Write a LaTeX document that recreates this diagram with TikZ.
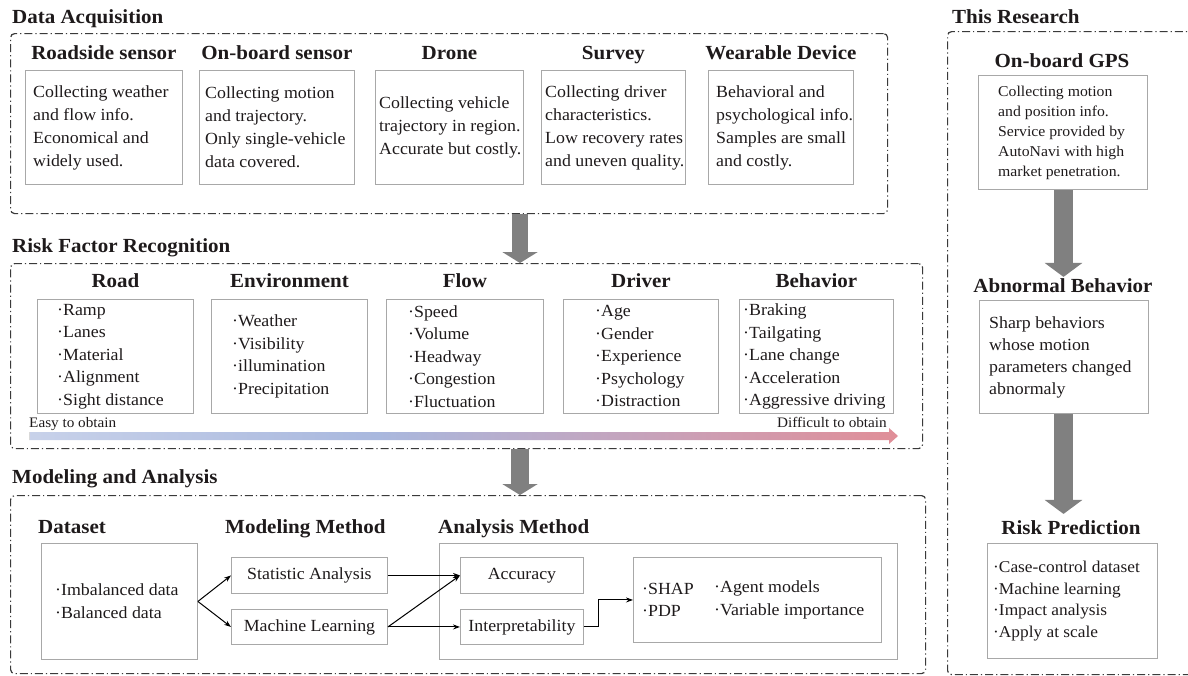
\documentclass[tikz,border=0pt]{standalone}
\usepackage{fontspec}
\setmainfont[FakeStretch=1.05]{Liberation Serif}
\usetikzlibrary{arrows.meta}
\definecolor{txt}{HTML}{1E1A1B}
\definecolor{boxc}{HTML}{A8A8A8}
\definecolor{panelc}{HTML}{3A3A3A}
\definecolor{arrc}{HTML}{808080}
\definecolor{ga}{HTML}{EEF1F8}
\definecolor{gb}{HTML}{A9B8DE}
\definecolor{gc}{HTML}{CF9CB0}
\definecolor{gd}{HTML}{EC8486}
\definecolor{ge}{HTML}{EF7373}
\pgfdeclarehorizontalshading{riskgrad}{100bp}{color(0bp)=(ga); color(45bp)=(gb); color(65bp)=(gc); color(82bp)=(gd); color(100bp)=(ge)}
\begin{document}
\begin{tikzpicture}[x=1pt,y=-1pt,
  panel/.style={draw=panelc, line width=1.2pt, dash pattern=on 8pt off 3pt on 1.2pt off 3pt, rounded corners=4pt, inner sep=0pt, anchor=north west},
  ptitle/.style={font=\fontsize{20}{22}\selectfont\bfseries, anchor=base west, inner sep=0pt, text=txt},
  head/.style={font=\fontsize{20}{22}\selectfont\bfseries, anchor=base, inner sep=0pt, text=txt},
  lhead/.style={font=\fontsize{20}{22}\selectfont\bfseries, anchor=base west, inner sep=0pt, text=txt},
  ibox/.style={draw=boxc, line width=0.9pt, anchor=north west, inner sep=0pt},
  itext/.style={align=left, inner sep=0pt, anchor=west, font=\fontsize{17}{23}\selectfont, text=txt},
  ftext/.style={align=left, inner sep=0pt, anchor=west, font=\fontsize{17}{22.5}\selectfont, text=txt},
  bigarrow/.style={draw=arrc, line width=#1},
  conn/.style={draw=black, line width=1pt, -{Stealth[length=7pt,width=5pt]}},
]
\useasboundingbox (0,0) rectangle (1188,675);

% ---------------- Data Acquisition ----------------
\node[ptitle] (dat) at (12,23) {Data Acquisition};
\node[panel, minimum width=877pt, minimum height=180pt] (da) at (10,33) {};

\node[ibox, minimum width=157pt, minimum height=114pt] (rs) at (25,70) {};
\node[head] (rsh) at ([yshift=11pt]rs.north) {Roadside sensor};
\node[itext] (rst) at ([xshift=8pt]rs.west) {Collecting weather\\and flow info.\\Economical and\\widely used.};

\node[ibox, minimum width=155pt, minimum height=114pt] (ob) at (199,70) {};
\node[head] (obh) at ([yshift=11pt]ob.north) {On-board sensor};
\node[itext] (obt) at ([xshift=6pt]ob.west) {Collecting motion\\and trajectory.\\Only single-vehicle\\data covered.};

\node[ibox, minimum width=148pt, minimum height=114pt] (dr) at (375,70) {};
\node[head] (drh) at ([yshift=11pt]dr.north) {Drone};
\node[itext] (drt) at ([xshift=4pt]dr.west) {Collecting vehicle\\trajectory in region.\\Accurate but costly.};

\node[ibox, minimum width=144pt, minimum height=114pt] (sv) at (541,70) {};
\node[head] (svh) at ([yshift=11pt]sv.north) {Survey};
\node[itext] (svt) at ([xshift=4pt]sv.west) {Collecting driver\\characteristics.\\Low recovery rates\\and uneven quality.};

\node[ibox, minimum width=145pt, minimum height=114pt] (wd) at (708,70) {};
\node[head] (wdh) at ([yshift=11pt]wd.north) {Wearable Device};
\node[itext] (wdt) at ([xshift=8pt]wd.west) {Behavioral and\\psychological info.\\Samples are small\\and costly.};

% ---------------- Risk Factor Recognition ----------------
\node[ptitle] (rft) at (12,252) {Risk Factor Recognition};
\node[panel, minimum width=912pt, minimum height=185pt] (rf) at (10,263) {};

\node[ibox, minimum width=156pt, minimum height=114pt] (road) at (37,299) {};
\node[head] at ([yshift=12pt]road.north) {Road};
\node[ftext] at ([xshift=20pt]road.west) {·Ramp\\·Lanes\\·Material\\·Alignment\\·Sight distance};

\node[ibox, minimum width=156pt, minimum height=114pt] (env) at (211,299) {};
\node[head] at ([yshift=12pt]env.north) {Environment};
\node[ftext] at ([xshift=21pt]env.west) {·Weather\\·Visibility\\·illumination\\·Precipitation};

\node[ibox, minimum width=157pt, minimum height=114pt] (flow) at (386,299) {};
\node[head] at ([yshift=12pt]flow.north) {Flow};
\node[ftext] at ([xshift=22pt]flow.west) {·Speed\\·Volume\\·Headway\\·Congestion\\·Fluctuation};

\node[ibox, minimum width=155pt, minimum height=114pt] (drv) at (563,299) {};
\node[head] at ([yshift=12pt]drv.north) {Driver};
\node[ftext] at ([xshift=32pt]drv.west) {·Age\\·Gender\\·Experience\\·Psychology\\·Distraction};

\node[ibox, minimum width=154pt, minimum height=114pt] (beh) at (739,299) {};
\node[head] at ([yshift=12pt]beh.north) {Behavior};
\node[ftext] at ([xshift=4pt]beh.west) {·Braking\\·Tailgating\\·Lane change\\·Acceleration\\·Aggressive driving};

\node[inner sep=0pt, anchor=base west, font=\fontsize{14.5}{16}\selectfont, text=txt] (easy) at (29,427) {Easy to obtain};
\node[inner sep=0pt, anchor=base east, font=\fontsize{14.5}{16}\selectfont, text=txt] (diff) at (887,427) {Difficult to obtain};
\shade[shading=riskgrad] (29,432) -- (889,432) -- (889,428) -- (898,436) -- (889,444) -- (889,440) -- (29,440) -- cycle;
\draw[draw=gray!30, line width=0.4pt] (29,432) -- (29,440);

% ---------------- Modeling and Analysis ----------------
\node[ptitle] (mat) at (12,483) {Modeling and Analysis};
\node[panel, minimum width=915pt, minimum height=178pt] (ma) at (10,495) {};

\node[lhead] (dsh) at (38,533) {Dataset};
\node[ibox, minimum width=156pt, minimum height=116pt] (ds) at (41,543) {};
\node[itext] at ([xshift=14pt]ds.west) {·Imbalanced data\\·Balanced data};

\node[lhead] (mmh) at (225,533) {Modeling Method};
\node[ibox, minimum width=156pt, minimum height=36pt, font=\fontsize{17}{20}\selectfont, text=txt] (sa) at (231,557) {Statistic Analysis};
\node[ibox, minimum width=156pt, minimum height=35pt, font=\fontsize{17}{20}\selectfont, text=txt] (ml) at (231,609) {Machine Learning};

\node[lhead] (amh) at (438,533) {Analysis Method};
\node[ibox, minimum width=458pt, minimum height=116pt] (am) at (439,543) {};
\node[ibox, minimum width=123pt, minimum height=36pt, font=\fontsize{17}{20}\selectfont, text=txt] (acc) at (460,557) {Accuracy};
\node[ibox, minimum width=123pt, minimum height=35pt, font=\fontsize{17}{20}\selectfont, text=txt] (int) at (460,609) {Interpretability};
\node[ibox, minimum width=248pt, minimum height=85pt] (shap) at (633,557) {};
\node[ftext] at ([xshift=9pt]shap.west) {·SHAP\\·PDP};
\node[ftext] at ([xshift=81pt]shap.west) {·Agent models\\·Variable importance};

\draw[conn] (ds.east) -- (sa.west);
\draw[conn] (ds.east) -- (ml.west);
\draw[conn] (sa.east) -- (acc.west);
\draw[conn] (ml.east) -- (acc.west);
\draw[conn] (ml.east) -- (int.west);
\draw[conn] (int.east) -- ++(15pt,0) |- (shap.west);

% ---------------- big arrows between panels ----------------
\coordinate (ax) at (520,0);
\draw[bigarrow=16pt, -{Triangle[width=35pt,length=11pt]}] (ax |- da.south) -- (ax |- rf.north);
\draw[bigarrow=18pt, -{Triangle[width=35pt,length=11pt]}] (ax |- rf.south) -- (ax |- ma.north);

% ---------------- This Research ----------------
\node[ptitle] (trt) at (952,23) {This Research};
\node[panel, minimum width=300pt, minimum height=643pt] (tr) at (947,31) {};

\node[head] (gpsh) at (1062,67) {On-board GPS};
\node[ibox, minimum width=169pt, minimum height=114pt] (gps) at (978,75) {};
\node[align=left, inner sep=0pt, anchor=west, font=\fontsize{15}{20}\selectfont, text=txt] at ([xshift=20pt]gps.west) {Collecting motion\\and position info.\\Service provided by\\AutoNavi with high\\market penetration.};

\node[head] (abh) at (1063,292) {Abnormal Behavior};
\node[ibox, minimum width=169pt, minimum height=113pt] (ab) at (979,300) {};
\node[align=left, inner sep=0pt, anchor=west, font=\fontsize{17}{22}\selectfont, text=txt] at ([xshift=10pt]ab.west) {Sharp behaviors\\whose motion\\parameters changed\\abnormaly};

\node[head] (rph) at (1071,534) {Risk Prediction};
\node[ibox, minimum width=170pt, minimum height=115pt] (rp) at (987,543) {};
\node[align=left, inner sep=0pt, anchor=west, font=\fontsize{16.5}{21.5}\selectfont, text=txt] at ([xshift=6pt]rp.west) {·Case-control dataset\\·Machine learning\\·Impact analysis\\·Apply at scale};

\coordinate (bx) at (1063.5,0);
\draw[bigarrow=19pt, -{Triangle[width=37pt,length=14pt]}] (bx |- gps.south) -- ([yshift=1pt]bx |- abh.north);
\draw[bigarrow=19pt, -{Triangle[width=37pt,length=14pt]}] (bx |- ab.south) -- ([yshift=6pt]bx |- rph.north);
\end{tikzpicture}
\end{document}
